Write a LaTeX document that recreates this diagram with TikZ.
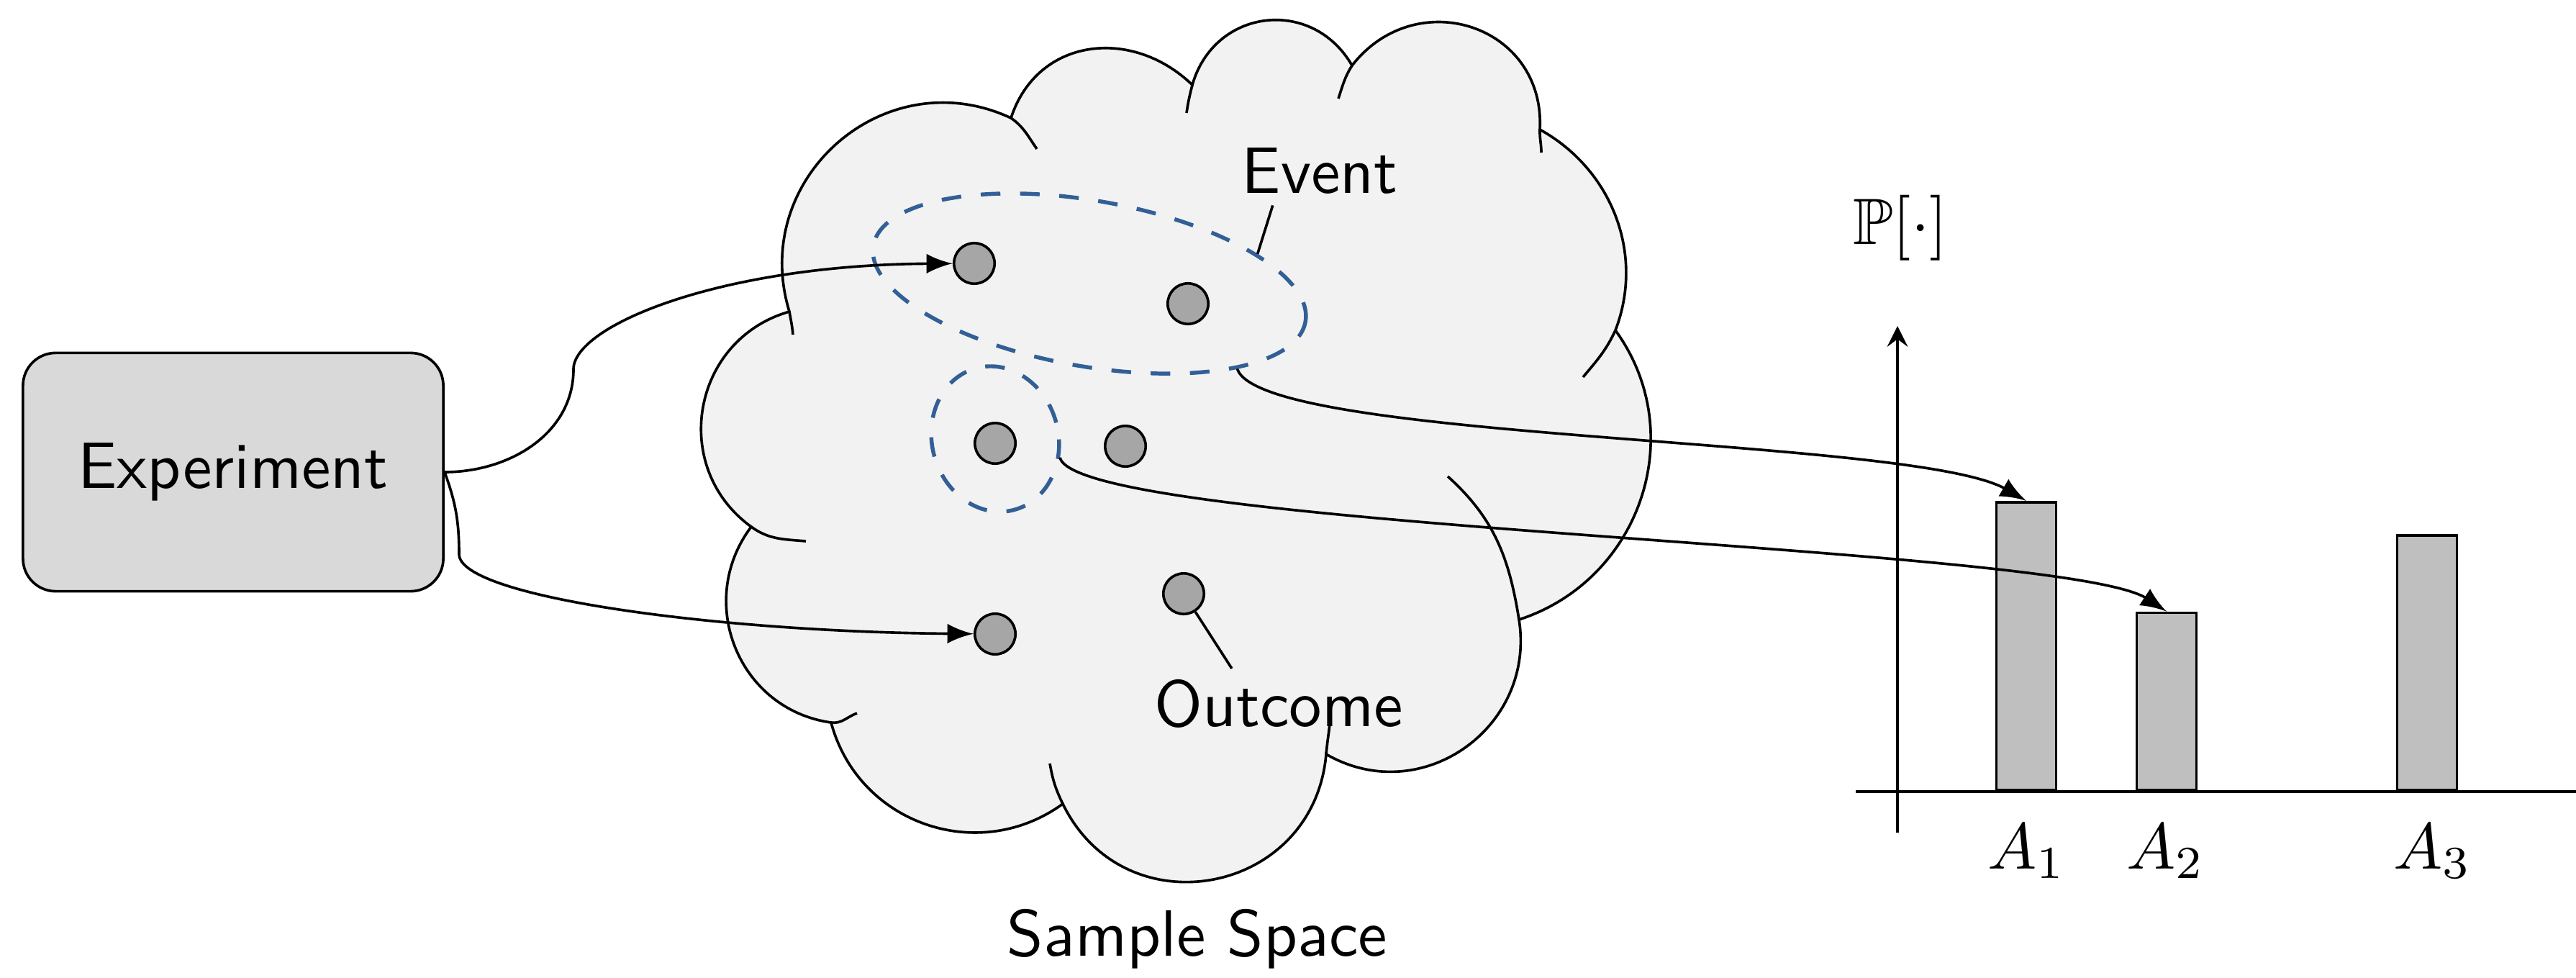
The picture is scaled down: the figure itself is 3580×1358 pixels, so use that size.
\documentclass[tikz,border=0pt]{standalone}
\usepackage{amssymb,amsmath}
\usepackage{fontspec}
\usepackage{tikz}
\usetikzlibrary{positioning,shapes.geometric}
\definecolor{eventBlue}{RGB}{50, 95, 150}
\definecolor{cloudGray}{RGB}{242, 242, 242}
\definecolor{boxGray}{RGB}{217, 217, 217}
\definecolor{dotGray}{RGB}{166, 166, 166}
\definecolor{barGray}{RGB}{191, 191, 191}

\begin{document}
\begin{tikzpicture}
  [
    x=0.1099pt, y=0.1099pt, >=latex,
    Box/.style={rectangle, rounded corners=5pt, draw=black, fill=boxGray, minimum width=64.2pt, minimum height=36.4pt, font=\sffamily},
    Dot/.style={circle, draw=black, fill=dotGray, minimum size=6.2pt, inner sep=0pt},
    Set/.style={ellipse, draw=eventBlue, dashed, semithick, inner sep=0pt},
    Bar/.style={rectangle, draw=black, fill=barGray, minimum width=9.1pt, inner sep=0pt, anchor=south},
    Tag/.style={font=\sffamily, inner sep=1.5pt}
  ]
  \useasboundingbox (0,0) rectangle (3580,1358);

  % Cloud
  \path [draw, fill=cloudGray] (1097,925)
    to[out=107, in=155, looseness=1.21] (1405,1194)
    to[out=72, in=136, looseness=1.17] (1657,1240)
    to[out=74, in=120, looseness=1.27] (1879,1267)
    to[out=52, in=87, looseness=1.35] (2140,1178)
    to[out=-29, in=69, looseness=0.98] (2245,899)
    to[out=-54, in=18, looseness=1.07] (2111,497)
    to[out=-81, in=-30, looseness=1.19] (1843,310)
    to[out=-95, in=-64, looseness=1.35] (1477,241)
    to[out=216, in=285, looseness=1.09] (1155,354)
    to[out=172, in=233, looseness=1.13] (1044,626)
    to[out=144, in=196, looseness=1.19] (1097,925) -- cycle;
  \draw (1097,925) to[out=-80, in=95] (1102,893);
  \draw (1405,1194) to[out=-35, in=125] (1441,1151);
  \draw (1657,1240) to[out=-104, in=82] (1649,1201);
  \draw (1879,1267) to[out=-122, in=72] (1860,1221);
  \draw (2140,1178) to[out=-92, in=90] (2142,1146);
  \draw (2245,899) to[out=-115, in=50] (2200,834);
  \draw (2111,497) to[out=99, in=-42] (2012,696);
  \draw (1843,310) to[out=85, in=-92] (1849,368);
  \draw (1477,241) to[out=116, in=-80] (1459,297);
  \draw (1155,354) to[out=-8, in=200] (1191,367);
  \draw (1044,626) to[out=-36, in=175] (1120,606);

  % Nodes
  \node[Box] (exp) at (324,702) {Experiment};
  \node[Set, minimum width=67pt, minimum height=25.3pt, rotate=-10] (ev) at (1514,964) {};
  \node[Set, minimum width=19.3pt, minimum height=22.4pt, rotate=15] (se) at (1383,748) {};
  \node[Dot] (o1) at (1354,992) {};
  \node[Dot] (o2) at (1651,936) {};
  \node[Dot] (o3) at (1383,742) {};
  \node[Dot] (o4) at (1564,738) {};
  \node[Dot] (o5) at (1383,477) {};
  \node[Dot] (o6) at (1645,533) {};
  \node[Tag] (evl) at (1834,1120) {Event};
  \node[Tag] (ol) at (1777,380) {Outcome};
  \node[Tag] (ss) at (1664,53) {Sample Space};
  \coordinate (k1) at (797,845);
  \coordinate (k2) at (638,588);

  % Chart
  \coordinate (yb) at (2637,201);
  \coordinate (yt) at (2637,905);
  \coordinate (xl) at (2579,258);
  \coordinate (xr) at (3580,258);
  \node[Bar, minimum height=44pt] (a1) at (2816,258) {};
  \node[Bar, minimum height=27.1pt] (a2) at (3011,258) {};
  \node[Bar, minimum height=38.9pt] (a3) at (3373,258) {};
  \node (l1) at (2817,175) {$A_1$};
  \node (l2) at (3010,175) {$A_2$};
  \node (l3) at (3381,175) {$A_3$};
  \node (pl) at (2641,1041) {$\mathbb{P}[\cdot]$};

  % Lines
  \path [->, draw] (exp.east) to[out=0, in=-90] (k1) .. controls +(0,60) and +(-354,-2) .. (o1);
  \path [->, draw] (exp.east) to[out=-70, in=90] (k2) .. controls +(0,-60) and +(-383,3) .. (o5);
  \path [->, draw] (ev.-20) .. controls +(34,-102) and +(-156,90) .. (a1.north);
  \path [->, draw] (se.-31) .. controls +(23,-99) and +(-141,93) .. (a2.north);
  \path [draw] (evl.216) -- (ev.20);
  \path [draw] (o6) -- (ol.143);
  \path [-stealth, draw] (yb) -- (yt);
  \path [draw] (xl) -- (xr);

\end{tikzpicture}
\end{document}
